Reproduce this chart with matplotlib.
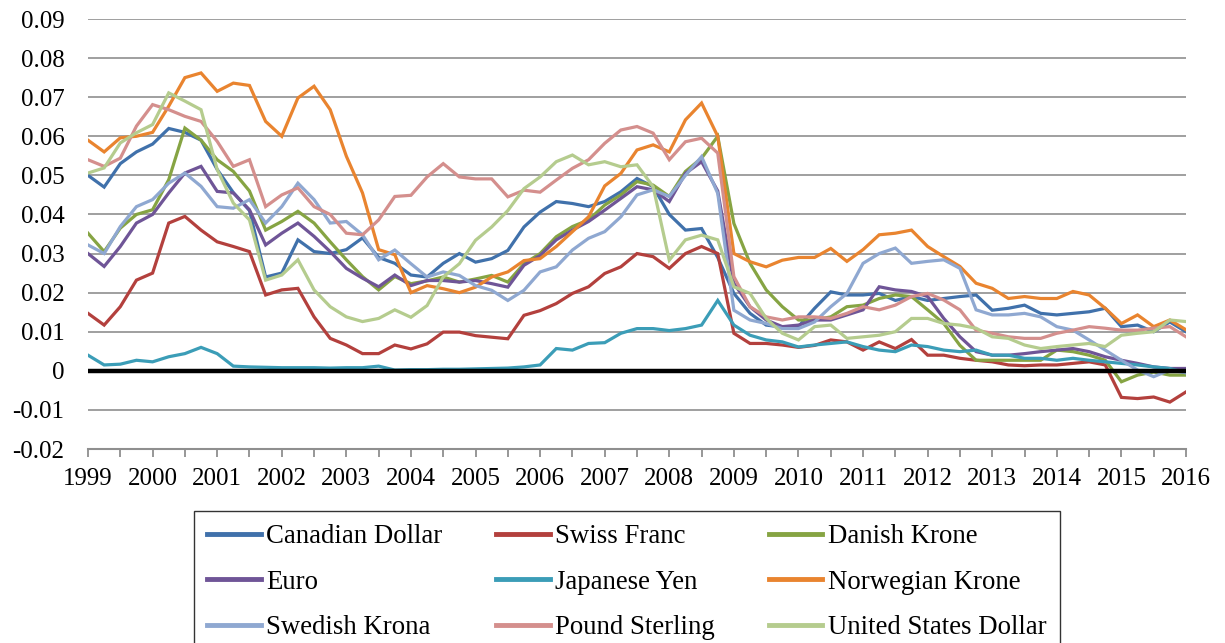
import numpy as np
import matplotlib.pyplot as plt
from matplotlib.ticker import MultipleLocator

plt.rcParams['font.family'] = ['Liberation Serif', 'DejaVu Serif']

# quarterly observations, 1999Q1 .. 2016Q1
years = np.arange(1999, 2016.01, 0.25)

cad = [0.050, 0.047, 0.053, 0.056, 0.058, 0.062, 0.061, 0.059, 0.0515, 0.0456,
       0.041, 0.024, 0.025, 0.0335, 0.0305, 0.030, 0.031, 0.034, 0.029, 0.0275,
       0.0245, 0.024, 0.0275, 0.030, 0.0278, 0.0287, 0.0308, 0.0368, 0.0406,
       0.0433, 0.0428, 0.042, 0.0433, 0.0458, 0.0492, 0.0471, 0.040, 0.036, 0.0364,
       0.029, 0.0198, 0.0147, 0.0117, 0.0112, 0.0113, 0.016, 0.0202, 0.0194,
       0.0194, 0.0198, 0.018, 0.019, 0.018, 0.0185, 0.019, 0.0194, 0.0155, 0.016, 0.0168,
       0.0147, 0.0143, 0.0147, 0.0151, 0.016, 0.0113, 0.0117, 0.010, 0.0125, 0.010]
chf = [0.0147, 0.0117, 0.0164, 0.0232, 0.025, 0.0378, 0.0395, 0.036, 0.033, 0.0318,
       0.0305, 0.0194, 0.0207, 0.0211, 0.0138, 0.0083, 0.0066, 0.0044, 0.0044, 0.0066,
       0.0056, 0.0069, 0.0099, 0.0099, 0.009, 0.0086, 0.0082, 0.0142, 0.0154,
       0.0172, 0.0198, 0.0215, 0.0249, 0.0266, 0.030, 0.0292, 0.0262, 0.030, 0.0318,
       0.030, 0.0096, 0.007, 0.007, 0.0066, 0.006, 0.0065, 0.0079, 0.0074,
       0.0053, 0.0074, 0.0057, 0.008, 0.004, 0.004, 0.0032, 0.0027, 0.0023, 0.0015, 0.0013,
       0.0015, 0.0015, 0.0019, 0.0023, 0.0015, -0.0068, -0.0071, -0.0067, -0.008, -0.0054]
dkk = [0.0352, 0.0305, 0.0365, 0.040, 0.0412, 0.0489, 0.0621, 0.059, 0.054, 0.051,
       0.046, 0.036, 0.0382, 0.0408, 0.0378, 0.033, 0.0284, 0.0241, 0.0207, 0.0241,
       0.0223, 0.023, 0.024, 0.0227, 0.0235, 0.0244, 0.0227, 0.0274, 0.030,
       0.0343, 0.0369, 0.0386, 0.0424, 0.045, 0.0484, 0.0475, 0.0446, 0.051, 0.0544,
       0.060, 0.0377, 0.0275, 0.0207, 0.0164, 0.013, 0.013, 0.0138, 0.0164,
       0.0168, 0.0185, 0.0194, 0.019, 0.0156, 0.0121, 0.0065, 0.0027, 0.0027, 0.0027, 0.0027,
       0.0027, 0.0053, 0.0049, 0.004, 0.0027, -0.0028, -0.0011, -0.0003, -0.0011, -0.0011]
eur = [0.030, 0.0267, 0.0318, 0.0378, 0.040, 0.0455, 0.0506, 0.0523, 0.0459, 0.0455,
       0.0412, 0.0322, 0.0352, 0.0378, 0.0344, 0.0305, 0.0262, 0.0237, 0.0215, 0.0245,
       0.0218, 0.0231, 0.0231, 0.0227, 0.0231, 0.0223, 0.0214, 0.027, 0.0295,
       0.0335, 0.036, 0.0382, 0.0411, 0.0441, 0.0471, 0.0463, 0.0433, 0.0505, 0.0535,
       0.046, 0.0224, 0.0164, 0.013, 0.0113, 0.0117, 0.013, 0.013, 0.0143,
       0.0156, 0.0215, 0.0207, 0.0203, 0.019, 0.0134, 0.0087, 0.0049, 0.004, 0.004, 0.0044,
       0.0049, 0.0053, 0.0057, 0.0049, 0.0036, 0.0027, 0.0019, 0.001, 0.0006, 0.0006]
jpy = [0.004, 0.0015, 0.0017, 0.0027, 0.0023, 0.0036, 0.0044, 0.006, 0.0044, 0.0012,
       0.001, 0.0009, 0.0008, 0.0008, 0.0008, 0.0007, 0.0008, 0.0008, 0.0012, 0.0002,
       0.0003, 0.0003, 0.0004, 0.0004, 0.0005, 0.0006, 0.0007, 0.001, 0.0015,
       0.0057, 0.0053, 0.007, 0.0072, 0.0096, 0.0108, 0.0108, 0.0103, 0.0108, 0.0117,
       0.018, 0.0117, 0.0091, 0.0079, 0.0074, 0.0061, 0.0066, 0.007, 0.0074,
       0.0062, 0.0053, 0.0049, 0.0066, 0.0062, 0.0053, 0.0049, 0.0053, 0.004, 0.004, 0.0032,
       0.0032, 0.0027, 0.0032, 0.0027, 0.0023, 0.0019, 0.0015, 0.001, 0.0006, -0.0005]
nok = [0.059, 0.056, 0.0596, 0.060, 0.061, 0.0677, 0.075, 0.0762, 0.0715, 0.0736,
       0.073, 0.0638, 0.060, 0.0698, 0.0728, 0.0668, 0.0549, 0.0455, 0.031, 0.0297,
       0.020, 0.0218, 0.021, 0.020, 0.0214, 0.024, 0.0253, 0.0282, 0.0287,
       0.0318, 0.0356, 0.0394, 0.0473, 0.0505, 0.0565, 0.0578, 0.056, 0.0642, 0.0685,
       0.060, 0.030, 0.0279, 0.0266, 0.0283, 0.029, 0.029, 0.0313, 0.028,
       0.031, 0.0348, 0.0352, 0.036, 0.0318, 0.0292, 0.0267, 0.0224, 0.0211, 0.0185, 0.019,
       0.0185, 0.0185, 0.0203, 0.0194, 0.016, 0.0121, 0.0143, 0.0113, 0.013, 0.0105]
sek = [0.0322, 0.030, 0.0369, 0.042, 0.0438, 0.048, 0.0506, 0.0472, 0.042, 0.0416,
       0.0438, 0.0378, 0.042, 0.048, 0.0438, 0.0378, 0.0382, 0.0348, 0.0284, 0.0309,
       0.0274, 0.024, 0.0253, 0.0244, 0.0218, 0.0206, 0.018, 0.0206, 0.0253,
       0.0266, 0.0309, 0.0339, 0.0356, 0.0394, 0.045, 0.0463, 0.0446, 0.050, 0.0548,
       0.0454, 0.0155, 0.013, 0.0121, 0.0108, 0.0108, 0.0125, 0.0164, 0.0198,
       0.0275, 0.030, 0.0314, 0.0275, 0.028, 0.0284, 0.0262, 0.0156, 0.0143, 0.0143, 0.0147,
       0.0138, 0.0113, 0.0104, 0.0079, 0.0053, 0.0027, 0.0002, -0.0015, 0.0002, -0.0005]
gbp = [0.054, 0.0523, 0.0544, 0.0626, 0.0681, 0.0668, 0.0651, 0.0638, 0.0587, 0.0523,
       0.054, 0.042, 0.045, 0.0468, 0.042, 0.040, 0.0352, 0.0348, 0.0386, 0.0446,
       0.0449, 0.0496, 0.053, 0.0496, 0.0491, 0.0491, 0.0445, 0.0462, 0.0457,
       0.0488, 0.0518, 0.054, 0.0582, 0.0616, 0.0625, 0.0608, 0.054, 0.0586, 0.0595,
       0.0557, 0.0241, 0.0164, 0.0138, 0.013, 0.0138, 0.0138, 0.0134, 0.0147,
       0.0164, 0.0156, 0.0168, 0.019, 0.0198, 0.0181, 0.0156, 0.0104, 0.0096, 0.0087, 0.0083,
       0.0083, 0.0096, 0.0104, 0.0113, 0.0109, 0.0104, 0.0104, 0.0109, 0.0113, 0.0087]
usd = [0.0506, 0.0519, 0.0583, 0.0609, 0.063, 0.0711, 0.069, 0.0668, 0.0515, 0.0429,
       0.0386, 0.0232, 0.0245, 0.0284, 0.0207, 0.0164, 0.0138, 0.0126, 0.0134, 0.0156,
       0.0137, 0.0167, 0.024, 0.0274, 0.0334, 0.0368, 0.041, 0.0466, 0.0496,
       0.0535, 0.0552, 0.0527, 0.0535, 0.0522, 0.0527, 0.0471, 0.0283, 0.0335, 0.0347,
       0.0335, 0.0215, 0.0198, 0.0134, 0.0096, 0.0079, 0.0113, 0.0117, 0.0083,
       0.0087, 0.0091, 0.010, 0.0134, 0.0134, 0.0121, 0.0117, 0.0109, 0.0087, 0.0083, 0.0066,
       0.0057, 0.0062, 0.0066, 0.007, 0.0062, 0.0091, 0.0096, 0.010, 0.013, 0.0126]

names = ['Canadian Dollar', 'Swiss Franc', 'Danish Krone',
         'Euro', 'Japanese Yen', 'Norwegian Krone',
         'Swedish Krona', 'Pound Sterling', 'United States Dollar']
series = [cad, chf, dkk, eur, jpy, nok, sek, gbp, usd]
colors = ['#4071AB', '#B3403D', '#86A443', '#6F5597', '#3B9DB7',
          '#E9842F', '#8FA8D1', '#D48F8D', '#B5CC8E']

fig = plt.figure(figsize=(12.25, 6.43), dpi=100)
ax = fig.add_axes([88 / 1225, 1 - 449 / 643, 1098 / 1225, 430 / 643])

lines = []
for name, vals, c in zip(names, series, colors):
    ln, = ax.plot(years, vals, color=c, lw=2.3, label=name, solid_joinstyle='miter')
    lines.append(ln)

ax.axhline(0, color='black', lw=3.2, zorder=5)

ax.set_xlim(1999, 2016)
ax.set_ylim(-0.02, 0.09)
ax.xaxis.set_major_locator(MultipleLocator(1))
ax.xaxis.set_minor_locator(MultipleLocator(0.5))
ax.xaxis.set_major_formatter(lambda v, p: '%d' % round(v))
yt = np.round(np.arange(-0.02, 0.0901, 0.01), 2)
ax.set_yticks(yt)
ax.set_yticklabels(['0' if t == 0 else '%.2f' % t for t in yt])

ax.grid(axis='y', color='#8f8f8f', lw=1.2)
ax.set_axisbelow(True)
for s in ['left', 'right', 'top']:
    ax.spines[s].set_visible(False)
ax.spines['bottom'].set_color('#8f8f8f')
ax.spines['bottom'].set_linewidth(1.5)
ax.tick_params(axis='y', length=0, pad=17, labelsize=18)
ax.tick_params(axis='x', which='major', length=5.5, width=1.3, color='#8f8f8f',
               pad=8, labelsize=18)
ax.tick_params(axis='x', which='minor', length=5.5, width=1.3, color='#8f8f8f')

# legend reads row by row, matplotlib fills column by column
order = [0, 3, 6, 1, 4, 7, 2, 5, 8]
leg = ax.legend([lines[i] for i in order], [names[i] for i in order],
                ncol=3, loc='upper left', bbox_to_anchor=(194 / 1225, 1 - 511 / 643),
                bbox_transform=fig.transFigure, fontsize=19.3, frameon=True,
                fancybox=False, borderaxespad=0, borderpad=0.5,
                handlelength=2.0, handletextpad=0.2, columnspacing=2.0,
                labelspacing=0.76)
leg.get_frame().set_edgecolor('black')
leg.get_frame().set_linewidth(1.0)
for h in leg.get_lines():
    h.set_linewidth(3.5)

fig.savefig('out.png', dpi=100)
